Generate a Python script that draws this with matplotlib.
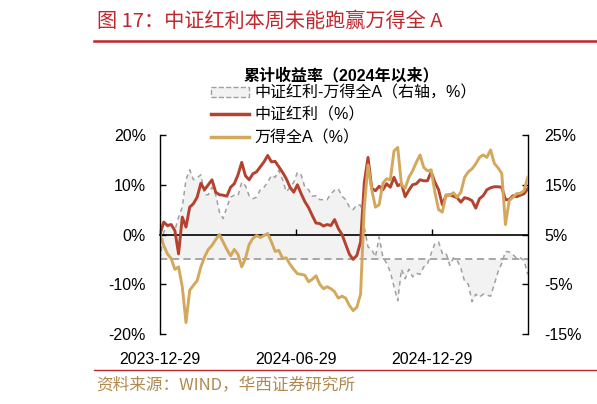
import pandas as pd
import matplotlib
matplotlib.use('Agg')
import matplotlib.pyplot as plt
import matplotlib.dates as mdates
from matplotlib.patches import Patch
from matplotlib.lines import Line2D

plt.rcParams['font.family'] = ['Liberation Sans', 'Noto Sans CJK SC']
plt.rcParams['axes.unicode_minus'] = False

# 5-day sampling from 2023-12-29
dates = pd.date_range('2023-12-29', periods=100, freq='5D')

# 中证红利 cumulative return (%), left axis
zzhl = [0, 2.5, 1.8, 2.0, 0.8, -3.9, 3.5, 1.5, 5.5, 6.2,
        7.5, 10.3, 9.0, 10.0, 11.0, 8.5, 8.0, 7.9, 7.7, 9.5,
        10.2, 12.0, 14.5, 11.8, 11.0, 12.2, 12.6, 13.6, 14.6, 15.9,
        14.6, 14.7, 13.6, 12.5, 11.2, 9.5, 8.5, 10.0, 8.2, 6.6,
        5.4, 3.8, 2.3, 2.2, 1.7, 2.0, 1.8, 3.0, 1.2, 0.0,
        -2.0, -4.0, -5.0, -4.2, -1.5, 10.5, 15.5, 9.3, 8.8, 9.7,
        9.0, 10.2, 9.5, 11.5, 9.8, 10.2, 7.6, 8.9, 10.0, 10.2,
        11.0, 10.8, 10.8, 12.6, 10.5, 9.0, 6.0, 7.8, 8.0, 7.7,
        7.4, 6.5, 7.4, 7.2, 6.8, 5.3, 7.2, 7.8, 9.0, 9.4,
        9.6, 9.6, 9.5, 7.0, 7.0, 7.8, 7.6, 7.9, 8.2, 9.2]

# 万得全A cumulative return (%), left axis
wind_a = [0, -2.2, -3.9, -4.8, -7.0, -6.5, -10.5, -17.7, -11.2, -10.2,
          -9.3, -6.5, -4.5, -3.0, -2.2, -1.0, 0.0, -1.5, -3.0, -4.3,
          -3.0, -4.0, -6.5, -4.8, -2.0, -0.8, -0.2, -0.6, -0.2, 0.2,
          -1.5, -3.4, -3.2, -4.8, -4.7, -6.0, -7.0, -7.9, -8.0, -8.2,
          -9.5, -9.0, -8.3, -10.0, -10.9, -10.5, -10.9, -11.5, -12.8, -12.4,
          -12.8, -14.3, -15.3, -14.6, -12.0, 5.5, 14.0, 9.0, 5.5, 6.0,
          10.3, 11.2, 11.0, 16.8, 17.5, 10.0, 9.3, 11.5, 12.8, 14.5,
          16.0, 13.5, 12.8, 13.0, 8.5, 5.0, 4.5, 8.0, 7.9, 8.4,
          7.5, 8.5, 11.5, 12.6, 13.2, 14.2, 15.5, 16.0, 15.5, 17.0,
          14.3, 13.4, 12.3, 2.0, 6.8, 7.5, 8.2, 8.3, 8.8, 11.5]

# 中证红利-万得全A (%), right axis
spread = [0, 5.5, 6.5, 7.3, 5.8, 8.5, 10.5, 16.0, 18.0, 16.0,
          16.4, 17.0, 13.0, 13.0, 14.5, 13.0, 9.5, 8.2, 10.5, 12.5,
          12.9, 12.8, 15.5, 14.8, 12.8, 12.2, 12.5, 14.0, 14.5, 15.5,
          16.9, 16.5, 17.9, 16.0, 13.6, 14.4, 15.5, 17.5, 17.0, 14.5,
          14.0, 12.7, 12.8, 12.0, 12.0, 12.0, 13.2, 13.9, 14.2, 12.7,
          12.0, 10.5, 10.0, 11.0, 10.9, 6.5, 2.5, 2.0, 0.5, 4.5,
          0.5, -0.8, -2.5, -5.5, -8.3, -2.0, -3.9, -2.0, -3.5, -2.8,
          -3.0, -1.5, -0.9, 1.2, 3.2, 3.5, 1.2, 1.3, -1.2, 0.3,
          -0.2, -1.8, -4.4, -5.0, -8.5, -7.0, -7.6, -7.0, -7.2, -7.4,
          -5.0, -2.5, -0.8, 1.6, 1.5, 1.0, 0.2, 0.3, -0.2, -3.0]

xtick_labels = ['2023-12-29', '2024-06-29', '2024-12-29']
left_ticks = [20, 10, 0, -10, -20]
right_ticks = [25, 15, 5, -5, -15]

red = '#b5412f'
gold = '#d4a85c'
grey = '#a0a0a0'

fig = plt.figure(figsize=(5.97, 4.04), dpi=100)
ax = fig.add_axes([0.268, 0.1733, 0.616, 0.4925])
ax2 = ax.twinx()
ax.set_zorder(ax2.get_zorder() + 1)
ax.patch.set_visible(False)

# right axis: spread with light fill
ax2.fill_between(dates, spread, 0, color='#f2f2f2', lw=0)
ax2.plot(dates, spread, color=grey, lw=1.1, dashes=(3, 2.5))
ax2.axhline(0, color=grey, lw=1.3, dashes=(4, 2.5))
ax2.set_ylim(-15, 25)
ax2.set_yticks(right_ticks)
ax2.set_yticklabels([f'{v}%' for v in right_ticks])

# left axis: the two indices
ax.plot(dates, zzhl, color=red, lw=2.1)
ax.plot(dates, wind_a, color=gold, lw=2.1)
ax.set_ylim(-20, 20)
ax.set_yticks(left_ticks)
ax.set_yticklabels([f'{v}%' for v in left_ticks])
ax.set_xlim(dates[0], dates[-1])
ax.set_xticks(pd.to_datetime(xtick_labels))
ax.set_xticklabels(xtick_labels)

for a in (ax, ax2):
    for s in ('top', 'bottom'):
        a.spines[s].set_visible(False)
ax.spines['right'].set_visible(False)
ax2.spines['left'].set_visible(False)
ax.spines['left'].set_linewidth(1.0)
ax2.spines['right'].set_linewidth(1.0)

ax.tick_params(axis='y', direction='in', length=4, width=1, pad=10, labelsize=11.5)
ax2.tick_params(axis='y', direction='in', length=4, width=1, pad=12, labelsize=11.5)
ax.tick_params(axis='x', length=0, pad=13, labelsize=11.5)

# zero line with date ticks
sec = ax.secondary_xaxis(0.5)
sec.set_xticks(mdates.date2num(pd.to_datetime(xtick_labels)))
sec.tick_params(direction='out', length=4, width=1, labeltop=False, labelbottom=False)
sec.spines['top'].set_linewidth(1.2)

# header and footer
fig.text(97 / 597, 1 - 21 / 404, '图 17：中证红利本周未能跑赢万得全 A',
         color='#c0272d', fontsize=14.5, family='Noto Sans CJK SC',
         ha='left', va='center')
fig.add_artist(Line2D([94 / 597, 1], [1 - 41 / 404] * 2, color='#c0272d', lw=1.8))
fig.add_artist(Line2D([94 / 597, 1], [1 - 370 / 404] * 2, color='#c0272d', lw=1.0))
fig.text(96 / 597, 1 - 385 / 404, '资料来源：WIND，华西证券研究所',
         color='#b08a50', fontsize=12, family='Noto Sans CJK SC',
         ha='left', va='center')

fig.text(244 / 597, 1 - 75 / 404, '累计收益率（2024年以来）',
         fontsize=11.5, weight='bold', ha='left', va='center')

handles = [Patch(facecolor='#f2f2f2', edgecolor=grey, linestyle='--', lw=1.0),
           Line2D([], [], color=red, lw=2.5),
           Line2D([], [], color=gold, lw=2.5)]
labels = ['中证红利-万得全A（右轴，%）', '中证红利（%）', '万得全A（%）']
fig.legend(handles, labels, loc='upper left', bbox_to_anchor=(211 / 597, 1 - 85 / 404),
           frameon=False, fontsize=11.5, handlelength=2.4, handleheight=0.6,
           handletextpad=0.3, labelspacing=0.46, borderpad=0, borderaxespad=0)

fig.savefig('out.png', dpi=100)
